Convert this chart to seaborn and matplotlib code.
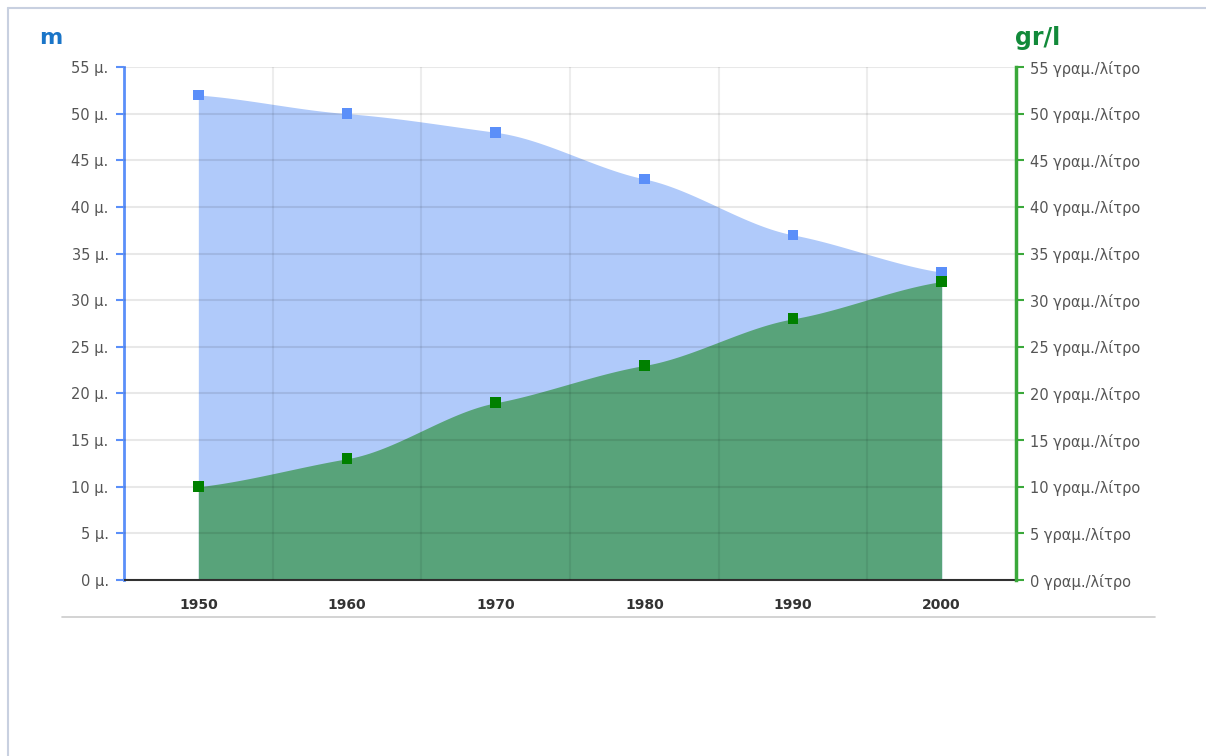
import numpy as np
import pandas as pd
import matplotlib
matplotlib.use("Agg")
import matplotlib.pyplot as plt
import seaborn as sns

years = [1950, 1960, 1970, 1980, 1990, 2000]
depth_m = [52, 50, 48, 43, 37, 33]
salt_grl = [10, 13, 19, 23, 28, 32]
y_ticks = list(range(0, 56, 5))
left_labels = [f"{v} μ." for v in y_ticks]
right_labels = [f"{v} γραμ./λίτρο" for v in y_ticks]


def smooth(xs, ys, n=40, tension=0.6):
    # cubic Hermite curve through the data points (softened tangents)
    xs = np.asarray(xs, float)
    ys = np.asarray(ys, float)
    m = np.gradient(ys, xs) * tension
    out_x, out_y = [], []
    for i in range(len(xs) - 1):
        h = xs[i + 1] - xs[i]
        t = np.linspace(0, 1, n, endpoint=(i == len(xs) - 2))
        h00 = 2 * t**3 - 3 * t**2 + 1
        h10 = t**3 - 2 * t**2 + t
        h01 = -2 * t**3 + 3 * t**2
        h11 = t**3 - t**2
        out_x.append(xs[i] + t * h)
        out_y.append(h00 * ys[i] + h10 * h * m[i] + h01 * ys[i + 1] + h11 * h * m[i + 1])
    return np.concatenate(out_x), np.concatenate(out_y)


df = pd.DataFrame({"year": years, "m": depth_m, "grl": salt_grl})

sns.set_theme(style="white")
plt.rcParams["font.family"] = ["DejaVu Sans"]

fig = plt.figure(figsize=(12.06, 7.56), dpi=100)
ax = fig.add_axes([124 / 1206, 1 - 580 / 756, (1016 - 124) / 1206, (580 - 67) / 756])

bx, by = smooth(df["year"], df["m"])
gx, gy = smooth(df["year"], df["grl"])
ax.fill_between(bx, 0, by, color="#b0cafa", lw=0, zorder=1)
ax.fill_between(gx, 0, gy, color="#58a37a", lw=0, zorder=2)

sns.scatterplot(data=df, x="year", y="m", marker="s", s=60, color="#5b8ff9",
                edgecolor="none", ax=ax, zorder=5)
sns.scatterplot(data=df, x="year", y="grl", marker="s", s=60, color="#008000",
                edgecolor="none", ax=ax, zorder=6)

ax.set_xlim(1945, 2005)
ax.set_ylim(0, 55)
ax.set_xticks(years)
ax.set_xticklabels([str(y) for y in years], fontsize=10, fontweight="bold", color="#333333")
ax.set_xticks([1955, 1965, 1975, 1985, 1995], minor=True)
ax.set_yticks(y_ticks)
ax.set_yticklabels(left_labels, fontsize=10.5, color="#555555")
ax.set_xlabel("")
ax.set_ylabel("")

ax.set_axisbelow(False)
ax.grid(axis="y", which="major", color="#000000", alpha=0.09, lw=1.5, zorder=3)
ax.grid(axis="x", which="minor", color="#000000", alpha=0.07, lw=1.5, zorder=3)
ax.grid(axis="x", which="major", visible=False)

ax.tick_params(axis="x", which="major", length=5, width=1, color="#333333", pad=8, direction="out")
ax.tick_params(axis="x", which="minor", length=0)
ax.tick_params(axis="y", length=6, width=1.5, color="#5b8ff9", pad=5, direction="out", left=True)

ax.spines["top"].set_visible(False)
ax.spines["right"].set_visible(False)
ax.spines["left"].set_color("#5b8ff9")
ax.spines["left"].set_linewidth(2)
ax.spines["bottom"].set_color("#333333")
ax.spines["bottom"].set_linewidth(1.5)

ax2 = ax.twinx()
ax2.set_ylim(0, 55)
ax2.set_yticks(y_ticks)
ax2.set_yticklabels(right_labels, fontsize=10.5, color="#555555")
ax2.tick_params(axis="y", length=6, width=1.5, color="#3aa83a", pad=4, direction="out", right=True)
ax2.grid(False)
for s in ["top", "left", "bottom"]:
    ax2.spines[s].set_visible(False)
ax2.spines["right"].set_color("#3aa83a")
ax2.spines["right"].set_linewidth(2.5)

fig.text(39 / 1206, 1 - 38 / 756, "m", fontsize=16, fontweight="bold", color="#1a75c8", va="center")
fig.text(1015 / 1206, 1 - 38 / 756, "gr/l", fontsize=17, fontweight="bold", color="#128a3a", va="center")

# frame and divider lines of the surrounding panel
fig.add_artist(plt.Line2D([8 / 1206, 8 / 1206], [0, 1 - 8 / 756], color="#c8d0e0", lw=1.5))
fig.add_artist(plt.Line2D([8 / 1206, 1], [1 - 8 / 756, 1 - 8 / 756], color="#c8d0e0", lw=1.5))
fig.add_artist(plt.Line2D([62 / 1206, 1155 / 1206], [1 - 617 / 756, 1 - 617 / 756], color="#cccccc", lw=1.2))

fig.savefig("out.png", dpi=100)
